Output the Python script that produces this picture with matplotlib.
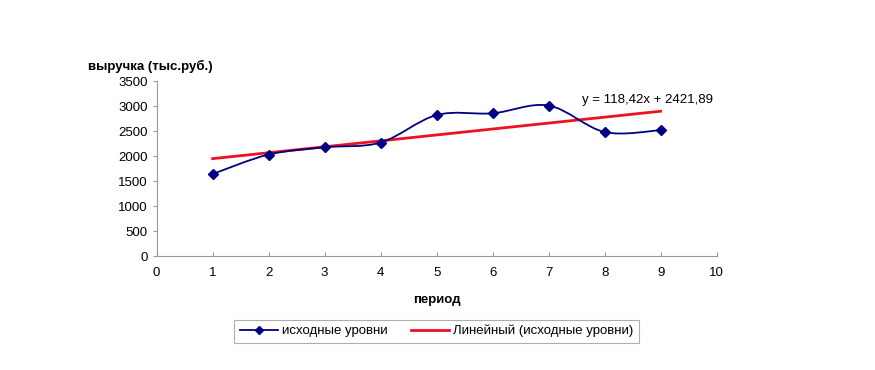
import matplotlib.pyplot as plt
import numpy as np
from matplotlib.path import Path
from matplotlib.patches import PathPatch
from matplotlib.lines import Line2D

periods = [1, 2, 3, 4, 5, 6, 7, 8, 9]
revenue = [1640, 2030, 2175, 2270, 2820, 2855, 3010, 2480, 2517]
y_ticks = [0, 500, 1000, 1500, 2000, 2500, 3000, 3500]
x_ticks = list(range(0, 11))

plt.rcParams['font.family'] = ['Liberation Sans', 'DejaVu Sans']


def smooth_path(xs, ys):
    # bezier smoothing like Excel's "smoothed line"
    pts = np.column_stack([xs, ys]).astype(float)
    n = len(pts)
    verts = [pts[0]]
    codes = [Path.MOVETO]
    for i in range(n - 1):
        p0 = pts[i - 1] if i > 0 else pts[i]
        p1 = pts[i]
        p2 = pts[i + 1]
        p3 = pts[i + 2] if i + 2 < n else pts[i + 1]
        c1 = p1 + (p2 - p0) / 6.0
        c2 = p2 - (p3 - p1) / 6.0
        verts += [c1, c2, p2]
        codes += [Path.CURVE4] * 3
    return Path(verts, codes)


fig = plt.figure(figsize=(8.75, 3.7), dpi=100)
ax = fig.add_axes([0.179, 0.308, 0.640, 0.473])

navy = '#000080'
ax.add_patch(PathPatch(smooth_path(periods, revenue), facecolor='none',
                       edgecolor=navy, lw=1.3, zorder=3))
ax.plot(periods, revenue, linestyle='none', marker='D', color=navy,
        markersize=4.7, zorder=4)

t = np.array(periods) - np.mean(periods)
k, b = np.polyfit(t, revenue, 1)
ax.plot(periods, k * t + b, color='#ee1122', lw=2, zorder=2)

ax.set_xlim(0, 10)
ax.set_ylim(0, 3500)
ax.set_xticks(x_ticks)
ax.set_yticks(y_ticks)
for s in ['top', 'right']:
    ax.spines[s].set_visible(False)
for s in ['left', 'bottom']:
    ax.spines[s].set_color('#999999')
    ax.spines[s].set_linewidth(0.8)
ax.tick_params(axis='both', colors='#999999', labelcolor='black',
               labelsize=9.5, length=3, width=0.8)
ax.tick_params(axis='x', direction='in', pad=8)

fig.text(0.101, 0.812, 'выручка (тыс.руб.)', fontsize=9.5, fontweight='bold')
fig.text(0.499, 0.182, 'период', fontsize=9.5, fontweight='bold', ha='center')
fig.text(0.665, 0.722, 'y = 118,42x + 2421,89', fontsize=9.5)

handles = [Line2D([], [], color=navy, marker='D', markersize=4.5, lw=1.3),
           Line2D([], [], color='#ee1122', lw=2)]
leg = fig.legend(handles, ['исходные уровни', 'Линейный (исходные уровни)'],
                 loc='center', bbox_to_anchor=(0.499, 0.105), ncol=2,
                 fontsize=9.5, frameon=True, fancybox=False,
                 handlelength=2.9, handletextpad=0.3, columnspacing=1.8,
                 borderpad=0.4)
leg.get_frame().set_edgecolor('#999999')
leg.get_frame().set_linewidth(0.8)

fig.savefig('out.png', dpi=100)
